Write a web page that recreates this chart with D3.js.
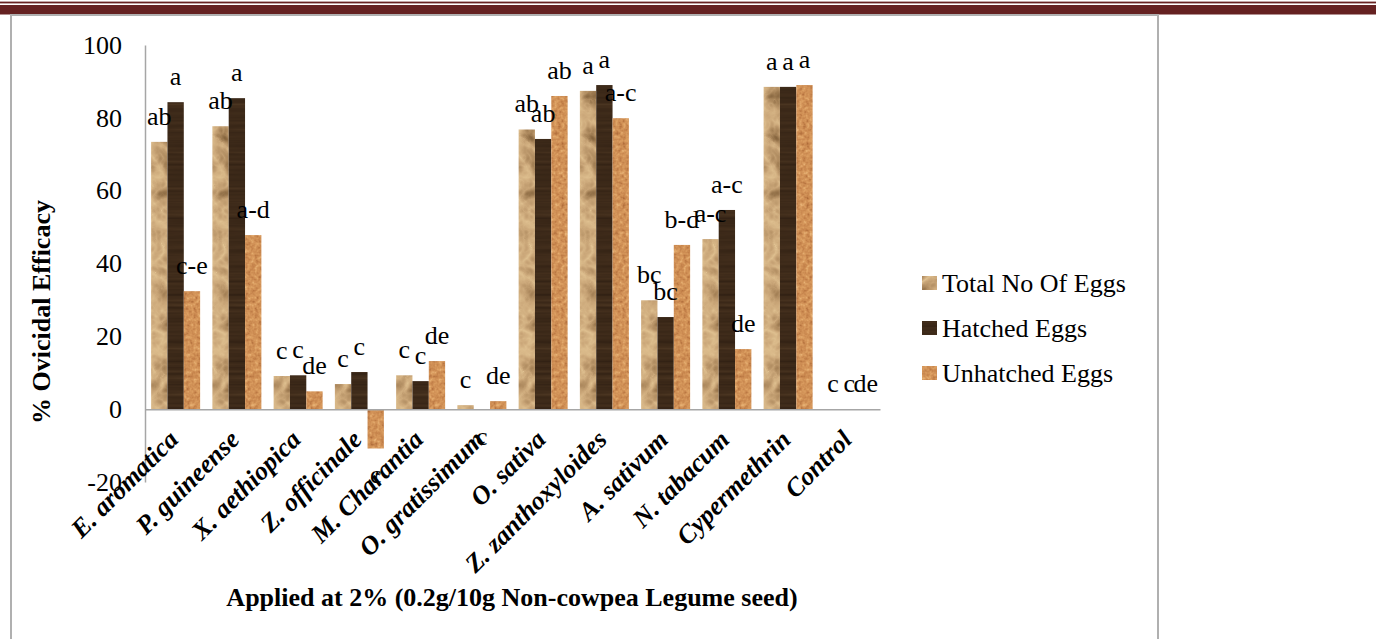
<!DOCTYPE html>
<html>
<head>
<meta charset="utf-8">
<script src="https://cdn.jsdelivr.net/npm/d3@7/dist/d3.min.js"></script>
<style>
  body { margin: 0; background: #fff; }
  svg { display: block; }
  text { font-family: "Liberation Serif", "Times New Roman", "DejaVu Serif", serif; fill: #000; }
</style>
</head>
<body>
<svg id="chart" width="1376" height="639"></svg>
<script>
// treatments on the x axis
var categories = ["E. aromatica", "P. guineense", "X. aethiopica", "Z. officinale", "M. Charantia",
  "O. gratissimum", "O. sativa", "Z. zanthoxyloides", "A. sativum", "N. tabacum", "Cypermethrin", "Control"];

// % ovicidal efficacy
var totalEggs     = [73.4, 77.7, 9.1, 6.9, 9.3, 1.1, 76.8, 87.4, 29.9, 46.7, 88.5, 0];
var hatchedEggs   = [84.3, 85.4, 9.3, 10.2, 7.7, -0.2, 74.2, 89.0, 25.3, 54.7, 88.5, 0];
var unhatchedEggs = [32.4, 47.8, 4.9, -10.8, 13.2, 2.2, 86.0, 79.9, 45.1, 16.5, 89.0, 0];

// significance letters
var totalLetters     = ["ab", "ab", "c", "c", "c", "c", "ab", "a", "bc", "a-c", "a", "c"];
var hatchedLetters   = ["a", "a", "c", "c", "c", "c", "ab", "a", "bc", "a-c", "a", "c"];
var unhatchedLetters = ["c-e", "a-d", "de", "c", "de", "de", "ab", "a-c", "b-d", "de", "a", "de"];

var seriesNames = ["Total No Of Eggs", "Hatched Eggs", "Unhatched Eggs"];
var yTicks = [-20, 0, 20, 40, 60, 80, 100];

var serif = "'Liberation Serif', 'Times New Roman', 'DejaVu Serif', serif";
var svg = d3.select("#chart");
var defs = svg.append("defs");

// textured fills (crumpled paper, dark wood, cork) made with turbulence filters
function texture(id, type, freq, oct, seed, r, g, b) {
  var f = defs.append("filter").attr("id", id)
    .attr("color-interpolation-filters", "sRGB")
    .attr("x", "-10%").attr("y", "-10%").attr("width", "120%").attr("height", "120%");
  f.append("feTurbulence").attr("type", type).attr("baseFrequency", freq)
    .attr("numOctaves", oct).attr("seed", seed).attr("result", "n");
  f.append("feColorMatrix").attr("in", "n").attr("type", "matrix")
    .attr("values", "1 0 0 0 0  1 0 0 0 0  1 0 0 0 0  0 0 0 0 1").attr("result", "m");
  var ct = f.append("feComponentTransfer").attr("in", "m").attr("result", "c");
  ct.append("feFuncR").attr("type", "table").attr("tableValues", r);
  ct.append("feFuncG").attr("type", "table").attr("tableValues", g);
  ct.append("feFuncB").attr("type", "table").attr("tableValues", b);
  f.append("feComposite").attr("in", "c").attr("in2", "SourceGraphic").attr("operator", "in");
}
texture("texTotal", "turbulence", "0.045", 3, 4,
  "0.88 0.80 0.68 0.52 0.38", "0.76 0.66 0.54 0.39 0.27", "0.57 0.48 0.37 0.24 0.15");
texture("texHatched", "fractalNoise", "0.008 0.3", 2, 7,
  "0.17 0.22 0.26 0.34", "0.11 0.15 0.18 0.25", "0.07 0.09 0.11 0.16");
texture("texUnhatched", "fractalNoise", "0.28", 2, 2,
  "0.62 0.78 0.86 0.95", "0.36 0.52 0.62 0.78", "0.18 0.30 0.38 0.55");
var texIds = ["texTotal", "texHatched", "texUnhatched"];
var baseColors = ["#c8a674", "#3e2b1d", "#d49a5e"];

// page decoration: maroon rules and grey frame
svg.append("rect").attr("x", 0).attr("y", 1.6).attr("width", 1376).attr("height", 1.8).attr("fill", "#682222");
svg.append("rect").attr("x", 0).attr("y", 5).attr("width", 1376).attr("height", 9.5).attr("fill", "#652121");
svg.append("path").attr("d", "M11,660V15H1158V660")
  .attr("fill", "none").attr("stroke", "#b0b0b0").attr("stroke-width", 2);

var x = d3.scaleBand().domain(categories).range([145, 880]).paddingInner(0.2).paddingOuter(0.1);
var xs = d3.scaleBand().domain([0, 1, 2]).range([0, x.bandwidth()]);
var y = d3.scaleLinear().domain([-20, 100]).range([482, 45]);

var rows = categories.map(function(c, i) {
  return {
    cat: c,
    vals: [totalEggs[i], hatchedEggs[i], unhatchedEggs[i]],
    letters: [totalLetters[i], hatchedLetters[i], unhatchedLetters[i]]
  };
});

// y axis
var yAxis = svg.append("g").attr("transform", "translate(145,0)")
  .call(d3.axisLeft(y).tickValues(yTicks).tickSize(0).tickPadding(23).tickSizeOuter(0)
    .tickFormat(function(d) { return String(d); }));
yAxis.select(".domain").attr("stroke", "#a6a6a6").attr("stroke-width", 1.5);
yAxis.selectAll("text").attr("font-family", serif).attr("font-size", 26).attr("dy", "0.32em");

// bars
var groups = svg.append("g").selectAll("g").data(rows).enter().append("g")
  .attr("transform", function(d) { return "translate(" + x(d.cat) + ",0)"; });

groups.selectAll("rect").data(function(d) { return d.vals; }).enter().append("rect")
  .attr("x", function(d, j) { return xs(j); })
  .attr("y", function(d) { return y(Math.max(0, d)); })
  .attr("width", xs.bandwidth())
  .attr("height", function(d) { return Math.abs(y(d) - y(0)); })
  .attr("fill", function(d, j) { return baseColors[j]; })
  .attr("filter", function(d, j) { return "url(#" + texIds[j] + ")"; });

// x axis over the bars
var xAxis = svg.append("g").attr("transform", "translate(0," + y(0) + ")")
  .call(d3.axisBottom(x).tickSize(0).tickSizeOuter(0));
xAxis.select(".domain").attr("stroke", "#a6a6a6").attr("stroke-width", 1.5);
xAxis.selectAll("text")
  .attr("font-family", serif)
  .attr("font-size", 26).attr("font-weight", "bold").attr("font-style", "italic")
  .attr("text-anchor", "end").attr("x", 0).attr("y", 0).attr("dy", 0)
  .attr("transform", "translate(4,32) rotate(-45)");

// letters over (or under) each bar
groups.selectAll("text.lbl").data(function(d) {
    return d.vals.map(function(v, j) { return { v: v, t: d.letters[j], j: j }; });
  }).enter().append("text").attr("class", "lbl")
  .attr("x", function(d) { return xs(d.j) + xs.bandwidth() / 2; })
  .attr("y", function(d) { return d.v < 0 ? y(d.v) + 35 : y(d.v) - 17; })
  .attr("text-anchor", "middle").attr("font-size", 26)
  .text(function(d) { return d.t; });

// axis titles
svg.append("text").attr("transform", "translate(50,312) rotate(-90)")
  .attr("text-anchor", "middle").attr("font-size", 26).attr("font-weight", "bold")
  .text("% Ovicidal Efficacy");
svg.append("text").attr("x", 512).attr("y", 606)
  .attr("text-anchor", "middle").attr("font-size", 26).attr("font-weight", "bold")
  .text("Applied at 2% (0.2g/10g Non-cowpea Legume seed)");

// legend
var legend = svg.append("g").selectAll("g").data(seriesNames).enter().append("g")
  .attr("transform", function(d, i) { return "translate(922," + (283 + i * 45) + ")"; });
legend.append("rect").attr("x", 0).attr("y", -7).attr("width", 15).attr("height", 14)
  .attr("fill", function(d, i) { return baseColors[i]; })
  .attr("filter", function(d, i) { return "url(#" + texIds[i] + ")"; });
legend.append("text").attr("x", 20).attr("y", 9).attr("font-size", 26)
  .text(function(d) { return d; });
</script>
</body>
</html>
